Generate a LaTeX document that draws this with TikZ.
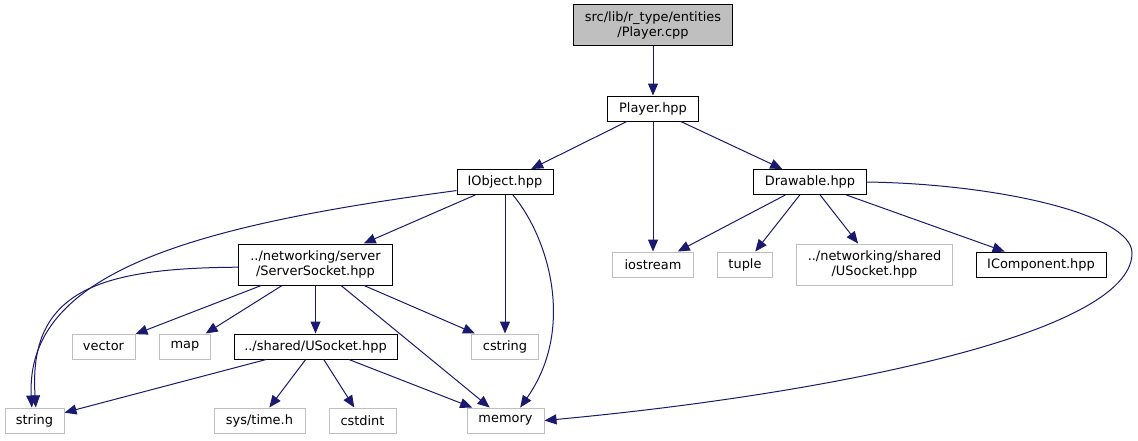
\documentclass[tikz,border=0pt]{standalone}
\usepackage{fontspec}
\setmainfont{DejaVu Sans}
\usetikzlibrary{arrows.meta}
\definecolor{EdgeBlue}{HTML}{191970}
\definecolor{SysGrey}{HTML}{BFBFBF}

\begin{document}
\begin{tikzpicture}[
        x=0.75pt, y=-0.75pt,
        >={Triangle[length=9pt, width=7.5pt]},
        font=\fontsize{9.7}{11.3}\selectfont,
        f/.style={draw=black, fill=white, align=center, inner sep=0pt,
                  line width=0.75pt, minimum height=18.75pt},
        f2/.style={f, minimum height=30.75pt},
        sys/.style={f, draw=SysGrey},
        sys2/.style={f2, draw=SysGrey},
        root/.style={f2, fill=SysGrey},
        e/.style={->, color=EdgeBlue, line width=0.75pt},
      ]
        \useasboundingbox (0,0) rectangle (1138,440);
        \node[root, minimum width=119.25pt] (cpp)  at (653,25)    {src/lib/r\_type/entities\\/Player.cpp};
        \node[f, minimum width=68.25pt]  (phpp) at (653,108.5)   {Player.hpp};
        \node[f, minimum width=72pt]     (iobj) at (505,182)     {IObject.hpp};
        \node[f, minimum width=84.75pt]  (drw)  at (810,182)     {Drawable.hpp};
        \node[f2, minimum width=115pt]   (ssock) at (315.5,264.5) {../networking/server\\/ServerSocket.hpp};
        \node[sys, minimum width=60.75pt] (iost) at (653,264.5)  {iostream};
        \node[sys, minimum width=41.25pt] (tup)  at (745,264.5)  {tuple};
        \node[sys2, minimum width=117pt]  (nusock) at (874.5,264.5) {../networking/shared\\/USocket.hpp};
        \node[f, minimum width=97.5pt]   (icomp) at (1041,264.5) {IComponent.hpp};
        \node[sys, minimum width=47.25pt] (vec)  at (103.5,346.5) {vector};
        \node[sys, minimum width=38.25pt] (map)  at (185,346.5)  {map};
        \node[f, minimum width=122.25pt] (shusock) at (315.5,346.5) {../shared/USocket.hpp};
        \node[sys, minimum width=50.25pt] (cstr) at (505,346.5)  {cstring};
        \node[sys, minimum width=44.25pt] (str)  at (34.5,420.5) {string};
        \node[sys, minimum width=68.25pt] (stime) at (259.5,420.5) {sys/time.h};
        \node[sys, minimum width=50.25pt] (cint) at (362.5,420.5) {cstdint};
        \node[sys, minimum width=57.75pt] (mem)  at (505.5,420.5) {memory};

        \draw[e] (cpp) -- (phpp);
        \draw[e] (phpp) -- (iobj);
        \draw[e] (phpp) -- (iost);
        \draw[e] (phpp) -- (drw);
        \draw[e] (iobj) -- (ssock);
        \draw[e] (iobj.190) .. controls (200,225) and (25,270) .. ([xshift=-2pt]str.north);
        \draw[e] (iobj) -- (cstr);
        \draw[e] ([xshift=6pt]iobj.south) .. controls (550,240) and (575,330) .. ([xshift=11pt]mem.north);
        \draw[e] (drw) -- (iost);
        \draw[e] (drw) -- (tup);
        \draw[e] (drw) -- (nusock);
        \draw[e] (drw) -- (icomp);
        % Drawable -> memory, round the right side
        \draw[e] (drw.east) .. controls (1000,184) and (1132,215) .. (1132,253)
                 .. controls (1132,335) and (820,395) .. (mem.east);
        \draw[e] (ssock.182) .. controls (100,268) and (28,290) .. ([xshift=1pt]str.north);
        \draw[e] (ssock) -- (vec);
        \draw[e] (ssock) -- (map);
        \draw[e] (ssock) -- (shusock);
        \draw[e] (ssock) -- (cstr);
        \draw[e] (ssock) -- (mem);
        \draw[e] (shusock) -- (str);
        \draw[e] (shusock) -- (stime);
        \draw[e] (shusock) -- (cint);
        \draw[e] (shusock) -- (mem);
      \end{tikzpicture}
\end{document}
